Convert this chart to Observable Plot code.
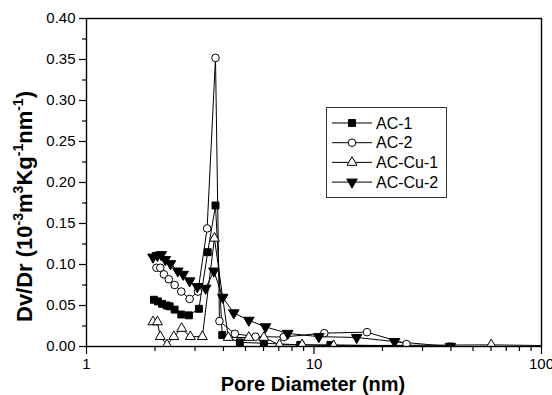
<!DOCTYPE html>
<html><head><meta charset="utf-8">
<script src="https://cdn.jsdelivr.net/npm/d3@7"></script>
<script src="https://cdn.jsdelivr.net/npm/@observablehq/plot@0.6"></script>
<style>body{margin:0;background:#fff} svg{display:block}</style>
</head><body><div id="chart"></div>
<script>
const seriesNames = ["AC-1", "AC-2", "AC-Cu-1", "AC-Cu-2"];

const ac1X = [1.98, 2.06, 2.15, 2.25, 2.32, 2.44, 2.61, 2.82, 3.12, 3.41, 3.69, 3.95, 4.72, 6.02, 8.7, 11.8, 39.8];
const ac1Y = [0.057, 0.055, 0.052, 0.050, 0.049, 0.045, 0.039, 0.038, 0.046, 0.115, 0.172, 0.014, 0.005, 0.004, 0.002, 0.002, 0.000];

const ac2X = [2.03, 2.11, 2.19, 2.30, 2.44, 2.61, 2.84, 3.09, 3.39, 3.69, 3.84, 4.49, 5.53, 7.36, 11.1, 17.1, 25.5];
const ac2Y = [0.096, 0.096, 0.088, 0.082, 0.075, 0.067, 0.058, 0.067, 0.144, 0.352, 0.031, 0.0155, 0.012, 0.0116, 0.0163, 0.0175, 0.003];

const cu1X = [1.96, 2.05, 2.11, 2.26, 2.42, 2.62, 2.86, 3.23, 3.65, 4.20, 5.17, 6.02, 7.05, 8.87, 12.2, 60.1, 110];
const cu1Y = [0.030, 0.030, 0.012, 0.002, 0.012, 0.022, 0.012, 0.012, 0.132, 0.011, 0.011, 0.011, 0.002, 0.002, 0.001, 0.002, 0.001];

const cu2X = [1.96, 2.05, 2.13, 2.22, 2.34, 2.52, 2.66, 2.84, 3.07, 3.34, 3.63, 3.97, 4.44, 5.17, 6.12, 7.67, 10.5, 15.4, 22.6, 39.8];
const cu2Y = [0.109, 0.111, 0.112, 0.106, 0.101, 0.092, 0.088, 0.080, 0.073, 0.071, 0.092, 0.060, 0.041, 0.032, 0.024, 0.016, 0.012, 0.011, 0.006, 0.000];

const xMajorTicks = [1, 10, 100];
const xMinorTicks = [2, 3, 4, 5, 6, 7, 8, 9, 20, 30, 40, 50, 60, 70, 80, 90];
const yMajorTicks = [0, 0.05, 0.10, 0.15, 0.20, 0.25, 0.30, 0.35, 0.40];
const yMinorTicks = [0.025, 0.075, 0.125, 0.175, 0.225, 0.275, 0.325, 0.375];

const sqrt3 = Math.sqrt(3);
const triangleDown = {
  draw(ctx, size) {
    const y = -Math.sqrt(size / (sqrt3 * 3));
    ctx.moveTo(0, -y * 2);
    ctx.lineTo(-sqrt3 * y, y);
    ctx.lineTo(sqrt3 * y, y);
    ctx.closePath();
  }
};

const styles = {
  "AC-1": {symbol: "square", fill: "black", r: 3.9},
  "AC-2": {symbol: "circle", fill: "white", r: 3.8},
  "AC-Cu-1": {symbol: "triangle", fill: "white", r: 3.7},
  "AC-Cu-2": {symbol: triangleDown, fill: "black", r: 3.9}
};

const xs = [ac1X, ac2X, cu1X, cu2X];
const ys = [ac1Y, ac2Y, cu1Y, cu2Y];
const rows = seriesNames.flatMap((s, i) => xs[i].map((x, j) => ({series: s, x, y: ys[i][j]})));

const lineMarks = seriesNames.map(s =>
  Plot.line(rows.filter(d => d.series === s), {x: "x", y: "y", stroke: "black", strokeWidth: 1, clip: true}));
const dotMarks = seriesNames.map(s =>
  Plot.dot(rows.filter(d => d.series === s), {
    x: "x", y: "y", symbol: styles[s].symbol, r: styles[s].r,
    fill: styles[s].fill, stroke: "black", strokeWidth: 1, clip: true
  }));

const svg = Plot.plot({
  width: 552, height: 395,
  marginLeft: 86, marginRight: 11, marginTop: 18, marginBottom: 49,
  x: {type: "log", domain: [1, 100]},
  y: {domain: [0, 0.4]},
  style: {fontFamily: "Arial, 'Liberation Sans', sans-serif", fontSize: "15px", color: "black", background: "white"},
  marks: [
    Plot.axisX({ticks: xMajorTicks, tickFormat: d => String(d), tickSize: 8, tickPadding: 4, label: null, strokeWidth: 1.2}),
    Plot.axisX({ticks: xMinorTicks, tickSize: 5, text: null, label: null, strokeWidth: 1.2}),
    Plot.axisY({ticks: yMajorTicks, tickFormat: d3.format(".2f"), tickSize: 7, tickPadding: 4, label: null, strokeWidth: 1.2}),
    Plot.axisY({ticks: yMinorTicks, tickSize: 4, text: null, label: null, strokeWidth: 1.2}),
    ...lineMarks,
    ...dotMarks,
    Plot.frame({stroke: "black", strokeWidth: 1.4})
  ]
});

const root = d3.select(svg);
const font = "Arial, 'Liberation Sans', sans-serif";

// x title
root.append("text")
  .attr("x", 313).attr("y", 391)
  .attr("text-anchor", "middle")
  .attr("font-family", font).attr("font-weight", "bold").attr("font-size", 20)
  .attr("fill", "black")
  .text("Pore Diameter (nm)");

// y title with superscripts
const yt = root.append("text")
  .attr("transform", "translate(32,322) rotate(-90)")
  .attr("text-anchor", "start")
  .attr("font-family", font).attr("font-weight", "bold").attr("font-size", 22)
  .attr("fill", "black");
const parts = [["Dv/Dr (10", false], ["-3", true], ["m", false], ["3", true], ["Kg", false], ["-1", true], ["nm", false], ["-1", true], [")", false]];
let prevSup = false;
for (const [t, sup] of parts) {
  const ts = yt.append("tspan").text(t);
  if (sup) ts.attr("font-size", 14);
  if (sup && !prevSup) ts.attr("dy", -9);
  else if (!sup && prevSup) ts.attr("dy", 9);
  prevSup = sup;
}

// legend
const lg = root.append("g").attr("text-anchor", "start");
lg.append("rect").attr("x", 326.5).attr("y", 107.5).attr("width", 120).attr("height", 90)
  .attr("fill", "white").attr("stroke", "#333").attr("stroke-width", 1);
seriesNames.forEach((s, i) => {
  const cy = 123 + i * 19.7;
  lg.append("line").attr("x1", 332).attr("x2", 372).attr("y1", cy).attr("y2", cy)
    .attr("stroke", "black").attr("stroke-width", 1);
  const st = styles[s];
  const type = st.symbol === "square" ? d3.symbolSquare : st.symbol === "circle" ? d3.symbolCircle
    : st.symbol === "triangle" ? d3.symbolTriangle : triangleDown;
  lg.append("path").attr("d", d3.symbol(type, Math.PI * st.r * st.r)())
    .attr("transform", `translate(352,${cy})`)
    .attr("fill", st.fill).attr("stroke", "black").attr("stroke-width", 1);
  lg.append("text").attr("x", 376).attr("y", cy).attr("dy", "0.35em")
    .attr("text-anchor", "start")
    .attr("font-family", font).attr("font-size", 16).attr("fill", "black").text(s);
});

document.getElementById("chart").appendChild(svg);
</script>
</body></html>
